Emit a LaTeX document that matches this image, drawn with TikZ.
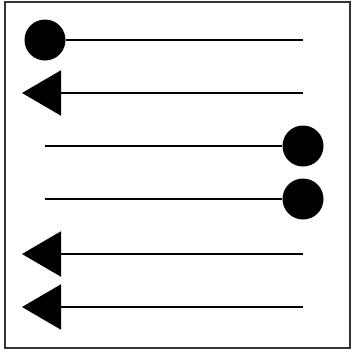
\documentclass[tikz,border=0pt]{standalone}
\usetikzlibrary{arrows.meta}
\begin{document}
\begin{tikzpicture}[x=1pt,y=-1pt,
  dot/.style={circle,fill=black,inner sep=0pt,minimum size=41pt},
  conn/.style={line width=2pt,black},
  tri/.style={-{Triangle[length=39pt,width=45pt]}}]
\useasboundingbox (0,0) rectangle (352,351);
\draw[line width=2pt,black!80] (5,2) rectangle (350,348);
% row 1
\node[dot] (c1) at (45,40) {};
\coordinate (e1) at (303,40);
\draw[conn] (c1) -- (e1);
% row 2
\coordinate (s2) at (303,93);
\coordinate (t2) at (22,93);
\draw[conn,tri] (s2) -- (t2);
% row 3
\coordinate (b3) at (45,146);
\node[dot] (c3) at (303,146) {};
\draw[conn] (b3) -- (c3);
% row 4
\coordinate (b4) at (45,199);
\node[dot] (c4) at (303,199) {};
\draw[conn] (b4) -- (c4);
% row 5
\coordinate (s5) at (303,254);
\coordinate (t5) at (22,254);
\draw[conn,tri] (s5) -- (t5);
% row 6
\coordinate (s6) at (303,307);
\coordinate (t6) at (22,307);
\draw[conn,tri] (s6) -- (t6);
\end{tikzpicture}
\end{document}
